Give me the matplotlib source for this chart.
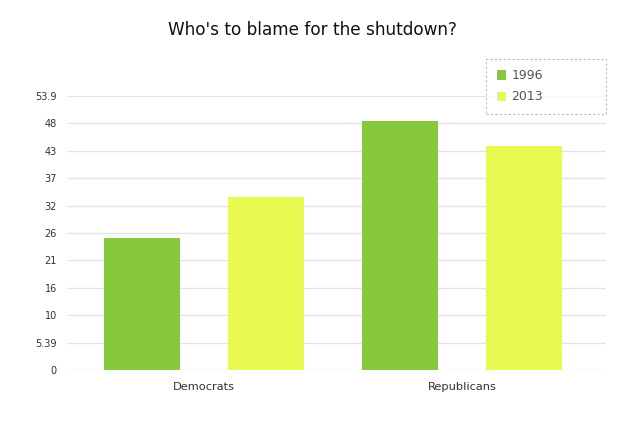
import matplotlib
matplotlib.use("Agg")
import matplotlib.pyplot as plt
import numpy as np

categories = ["Democrats", "Republicans"]
series_names = ["1996", "2013"]
values_1996 = [26, 49]
values_2013 = [34, 44]
y_max = 53.9
tick_labels = ["0", "5.39", "10", "16", "21", "26", "32", "37", "43", "48", "53.9"]

colors = ["#86C93A", "#E8FA52"]

fig = plt.figure(figsize=(6.25, 4.3), dpi=100)
ax = fig.add_axes([68/625, 1-370/430, 538/625, 274/430])

x = np.arange(len(categories))
w = 0.292
off = 0.24
ax.bar(x - off, values_1996, w, color=colors[0], label=series_names[0], zorder=3)
ax.bar(x + off, values_2013, w, color=colors[1], label=series_names[1], zorder=3)

ax.set_xlim(-0.5255, 1.5565)
ax.set_ylim(0, y_max)
ticks = [y_max * i / 10 for i in range(11)]
ax.set_yticks(ticks)
ax.set_yticklabels(tick_labels)
ax.set_xticks(x)
ax.set_xticklabels(categories)

for s in ax.spines.values():
    s.set_visible(False)
ax.grid(axis="y", color="#e3e3e3", linewidth=1, zorder=0)
ax.tick_params(axis="both", length=0, colors="#333333")
ax.tick_params(axis="y", pad=8, labelsize=7)
ax.tick_params(axis="x", pad=9, labelsize=8.2)

fig.text(0.5, 1-30/430, "Who's to blame for the shutdown?", ha="center", va="center",
         fontsize=12.2, color="#111111")

leg = ax.legend(loc="upper left", bbox_to_anchor=(486/625, 1-113.7/430, 119.7/625, 55/430),
                bbox_transform=fig.transFigure, mode="expand", frameon=True, fancybox=False,
                fontsize=9, handlelength=0.75, handleheight=0.75, borderpad=0.85,
                labelspacing=0.65, handletextpad=0.45, borderaxespad=0)
frame = leg.get_frame()
frame.set_edgecolor("#aaaaaa")
frame.set_linestyle((0, (2, 2)))
frame.set_linewidth(0.8)
for t in leg.get_texts():
    t.set_color("#555555")
leg.set_zorder(5)

fig.savefig("out.png", dpi=100)
